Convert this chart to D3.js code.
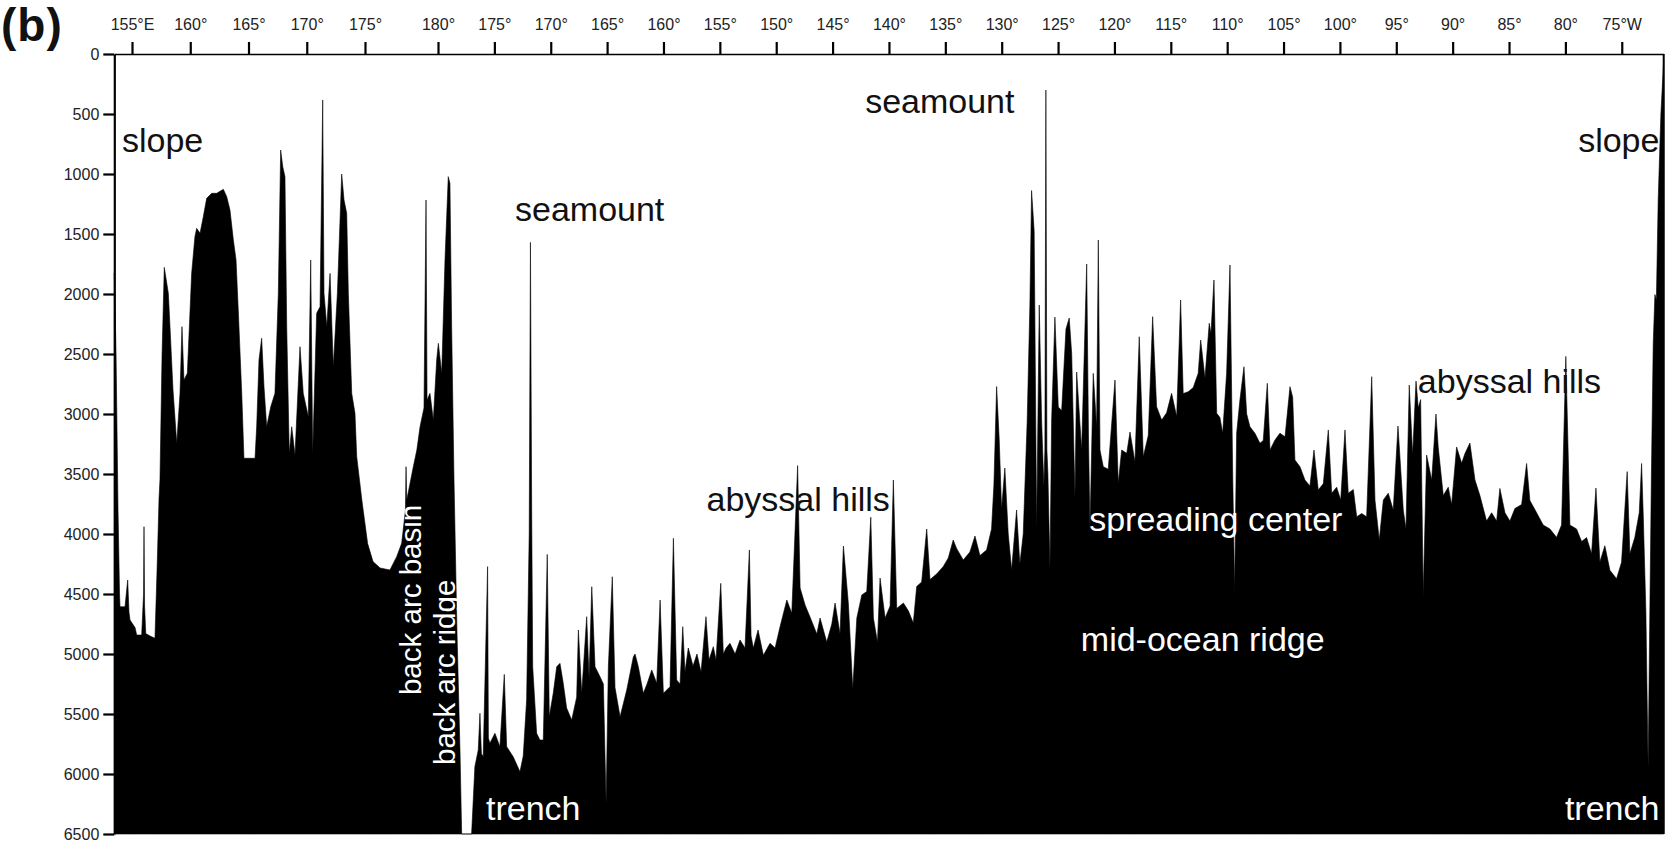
<!DOCTYPE html>
<html>
<head>
<meta charset="utf-8">
<script src="https://cdn.jsdelivr.net/npm/d3@7"></script>
<style>
  html, body { margin: 0; padding: 0; background: #fff; }
  svg { display: block; font-family: "Liberation Sans", Arial, Helvetica, sans-serif; }
</style>
</head>
<body>
<svg id="chart" width="1671" height="845"></svg>
<script>
// ---------------- DATA ----------------
// Along-track longitude (unwrapped, degrees east: 185 = 175°W ... 285 = 75°W)
const tickLon = [155,160,165,170,175,180,185,190,195,200,205,210,215,220,225,230,235,240,245,250,255,260,265,270,275,280,285];
const tickLabels = ["155°E","160°","165°","170°","175°","180°","175°","170°","165°","160°","155°","150°","145°","140°","135°","130°","125°","120°","115°","110°","105°","100°","95°","90°","85°","80°","75°W"];
const depthTicks = [0,500,1000,1500,2000,2500,3000,3500,4000,4500,5000,5500,6000,6500];

const profileLon = [
153.48,153.63,153.80,153.93,153.97,154.40,154.63,154.74,154.83,155.26,155.40,155.83,155.99,156.03,156.08,156.18,156.55,156.97,157.15,157.32,
157.40,157.58,157.77,158.12,158.26,158.52,158.84,159.12,159.29,159.46,159.75,160.12,160.40,160.55,160.84,161.12,161.41,161.84,162.27,162.84,
163.13,163.41,163.70,163.93,164.12,164.42,164.61,165.56,165.70,165.90,166.13,166.33,166.56,166.91,167.27,167.56,167.76,167.94,168.13,168.28,
168.50,168.71,168.99,169.42,169.70,170.13,170.34,170.51,170.85,171.14,171.37,171.48,171.72,172.00,172.28,172.63,173.00,173.20,173.43,173.57,
173.86,174.14,174.29,174.74,175.18,175.55,176.03,176.71,177.17,177.51,177.77,177.81,177.86,178.31,178.55,178.77,179.04,179.18,179.25,179.45,
179.68,179.91,180.03,180.33,180.62,180.91,181.06,181.21,181.42,181.68,181.95,182.10,182.98,183.27,183.57,183.72,183.85,184.01,184.40,184.47,
184.60,185.05,185.49,185.88,186.09,186.67,187.27,187.56,187.86,188.09,188.20,188.31,188.40,188.75,189.04,189.34,189.69,189.87,190.22,190.53,
190.82,191.11,191.41,191.86,192.30,192.45,192.75,193.19,193.40,193.64,193.93,194.37,194.67,194.91,195.11,195.46,195.70,196.15,196.74,197.33,
197.48,197.77,198.21,198.54,198.96,199.40,199.70,199.99,200.58,200.88,201.17,201.47,201.71,201.91,202.20,202.62,202.97,203.33,203.77,204.04,
204.42,204.66,205.08,205.31,205.55,205.90,206.35,206.79,207.23,207.62,207.77,207.97,208.39,208.86,209.45,209.90,210.34,210.94,211.38,211.90,
212.12,212.56,213.00,213.60,213.89,214.48,214.93,215.22,215.66,215.96,216.40,216.79,217.15,217.59,218.03,218.39,218.62,218.98,219.21,219.66,
220.10,220.39,220.69,221.28,221.72,222.16,222.46,222.90,223.35,223.64,224.23,224.82,225.26,225.70,226.00,226.59,227.18,227.63,228.07,228.66,
229.10,229.31,229.55,229.78,229.99,230.28,230.58,230.88,231.32,231.61,231.91,232.26,232.50,232.65,232.88,233.10,233.33,233.54,233.74,233.83,
233.92,234.01,234.10,234.28,234.43,234.72,235.02,235.32,235.70,235.99,236.21,236.50,236.65,237.09,237.54,237.70,237.83,238.12,238.42,238.57,
238.72,239.01,239.45,240.05,240.34,240.64,241.09,241.38,241.82,242.20,242.56,243.00,243.39,243.74,244.19,244.63,245.07,245.52,245.87,246.10,
246.55,246.99,247.43,247.65,248.03,248.41,248.56,248.83,249.07,249.36,249.60,249.95,250.25,250.49,250.66,250.84,251.13,251.49,251.73,252.02,
252.46,252.91,253.20,253.56,253.80,254.24,254.68,255.13,255.57,255.81,256.01,256.46,256.90,257.34,257.70,258.08,258.53,258.97,259.27,259.71,
260.07,260.45,260.74,261.19,261.49,261.93,262.37,262.82,263.11,263.49,263.85,264.29,264.73,265.15,265.62,265.86,266.15,266.45,266.75,266.95,
267.16,267.39,267.69,268.14,268.52,268.72,269.17,269.61,269.91,270.35,270.80,271.09,271.53,271.98,272.42,273.01,273.46,273.90,274.19,274.64,
275.08,275.52,276.12,276.56,276.85,277.45,278.03,278.63,279.22,279.66,280.04,280.40,280.99,281.44,281.88,282.32,282.71,283.06,283.50,283.95,
284.54,284.98,285.48,285.72,286.16,286.55,286.76,286.90,287.14,287.34,287.49,287.63,287.79,287.94,288.07,288.23,288.47,288.72
];
const profileDepth = [
1825,2500,3800,4500,4606,4606,4383,4650,4717,4780,4842,4842,4500,3939,4600,4830,4850,4869,4300,3700,
3550,2500,1778,1995,2272,2800,3244,2828,2272,2717,2661,1828,1522,1453,1494,1356,1203,1161,1161,1128,
1189,1300,1550,1717,2133,2828,3369,3369,3106,2550,2369,2772,3106,2939,2828,1994,800,939,1022,2272,
3328,3106,3342,2439,2828,3022,1717,3328,2161,2106,383,1994,2272,1828,2606,1994,1000,1217,1328,1994,
2828,2994,3356,3725,4080,4230,4283,4300,4189,4078,3800,3439,3717,3439,3300,3106,2950,1217,2883,2828,
3050,2550,2411,2661,1717,1022,1078,2272,3550,4800,5800,6500,6500,5939,5800,5494,5830,5856,4272,5700,
5744,5661,5772,5170,5772,5856,5981,5850,5383,3994,1570,3800,5106,5661,5717,5717,4170,5522,5328,5106,
5078,5244,5450,5550,5360,4800,5328,4689,5200,4439,5106,5189,5250,6244,5106,4356,5280,5522,5300,5022,
5000,5106,5328,5250,5133,5244,4550,5328,5272,4036,5217,5250,4772,5150,4950,5100,5000,5150,4689,5050,
4939,5050,4411,5000,4950,4911,5000,4883,4950,4133,4850,4950,4800,5011,4911,4950,4772,4550,4660,3430,
4450,4592,4692,4833,4700,4900,4750,4575,4833,4100,4580,5290,4700,4508,4480,3860,4700,4900,4367,4700,
4600,3550,4620,4575,4640,4742,4437,4400,3958,4380,4333,4270,4200,4050,4120,4217,4150,4017,4180,4133,
3958,3587,2771,3213,3792,3450,4000,4300,3800,4250,4000,3058,2092,1138,1478,3958,2092,3050,3600,3300,
300,3300,3500,4283,3050,2192,2942,2970,2292,2200,2500,3692,2650,3300,1750,3200,3958,2661,3106,1550,
3300,3439,3460,2717,3578,3300,3328,3150,3400,2356,3356,3180,2189,2939,3050,2990,2828,3020,2050,2830,
2814,2780,2661,2383,2700,2244,2330,1883,2994,3030,3160,2661,1758,3500,4467,3160,2883,2606,3000,3106,
3160,3244,3220,2744,3300,3217,3160,3190,2772,2860,3383,3440,3550,3600,3300,3633,3580,3133,3660,3610,
3717,3133,3660,3630,3856,3830,3856,2689,3717,4050,3717,3660,3800,3100,3800,3958,2758,3342,2725,2950,
2880,4508,3342,3550,3000,3275,3680,3610,3754,3275,3410,3330,3242,3550,3680,3892,3823,3892,3620,3823,
3892,3788,3754,3412,3720,3823,3925,3958,4028,3925,2520,3925,3958,4063,4030,4165,3617,4233,4098,4303,
4372,4236,3480,4165,4028,3823,3412,3823,4646,5950,4646,3500,2417,2005,2050,1217,500,50
];

// Feature labels, placed in data units (lon, depth of text baseline)
const labelText   = ["slope","slope","seamount","seamount","abyssal hills","abyssal hills","spreading center","mid-ocean ridge","trench","trench","back arc basin","back arc ridge"];
const labelLon    = [154.14,288.34,186.83,217.89,203.82,266.91,237.76,237.02,184.26,288.34,178.84,181.51];
const labelDepth  = [817,817,1392,492,3812,2825,3975,4975,6383,6383,5342,5925];
const labelOnDark = [false,false,false,false,false,false,true,true,true,true,true,true];
const labelAnchor = ["start","end","start","start","start","start","start","start","start","end","start","start"];
const labelRotate = [false,false,false,false,false,false,false,false,false,false,true,true];

// ---------------- LAYOUT ----------------
const svg = d3.select("#chart");
const mLeft = 114.3, mRight = 1663.7, mTop = 54, mBottom = 834;

// Piecewise along-track scale (the 175°E–180° leg is longer on the track)
const x = d3.scaleLinear()
  .domain([153.48, 175, 180, 288.72])
  .range([mLeft, 365, 438, mRight]);
const y = d3.scaleLinear().domain([0, 6500]).range([mTop, mBottom]);

const n = Math.min(profileLon.length, profileDepth.length);
const profile = profileLon.slice(0, n).map((lon, i) => ({lon, depth: profileDepth[i]}));

// Bathymetry fill
const area = d3.area()
  .x(d => x(d.lon))
  .y0(y(6500))
  .y1(d => y(d.depth));

svg.append("path")
  .datum(profile)
  .attr("d", area)
  .attr("fill", "#000")
  .attr("stroke", "#000")
  .attr("stroke-width", 0.6)
  .attr("stroke-linejoin", "miter");

// Right border
svg.append("line")
  .attr("x1", x(288.72)).attr("x2", x(288.72))
  .attr("y1", y(0)).attr("y2", y(6500))
  .attr("stroke", "#000").attr("stroke-width", 2);

// Left axis (depth)
const yAxis = d3.axisLeft(y).tickValues(depthTicks).tickFormat(d3.format("d"))
  .tickSize(11).tickSizeOuter(0).tickPadding(4);
const gy = svg.append("g").attr("transform", `translate(${mLeft},0)`).call(yAxis);
gy.select(".domain").attr("stroke", "#000").attr("stroke-width", 2.2);
gy.selectAll(".tick line").attr("stroke", "#000").attr("stroke-width", 2.2);
gy.selectAll(".tick text").attr("font-size", 16).attr("fill", "#222")
  .attr("font-family", "'Liberation Sans', Arial, sans-serif");

// Top axis (longitude)
const xAxis = d3.axisTop(x).tickValues(tickLon).tickFormat((d, i) => tickLabels[i])
  .tickSize(12).tickSizeOuter(0).tickPadding(12);
const gx = svg.append("g").attr("transform", `translate(0,${mTop})`).call(xAxis);
gx.select(".domain").attr("stroke", "#000").attr("stroke-width", 1.6);
gx.selectAll(".tick line").attr("stroke", "#000").attr("stroke-width", 2.2);
gx.selectAll(".tick text").attr("font-size", 16).attr("fill", "#222")
  .attr("font-family", "'Liberation Sans', Arial, sans-serif");

// Panel letter
svg.append("text")
  .attr("x", 1).attr("y", 41)
  .attr("font-size", 46).attr("font-weight", "bold").attr("fill", "#111")
  .attr("letter-spacing", 1)
  .text("(b)");

// Feature labels
labelText.forEach((t, i) => {
  const px = x(labelLon[i]), py = y(labelDepth[i]);
  const txt = svg.append("text")
    .attr("fill", labelOnDark[i] ? "#fff" : "#111")
    .attr("text-anchor", labelAnchor[i])
    .text(t);
  if (labelRotate[i]) {
    txt.attr("font-size", 29.5)
      .attr("transform", `translate(${px},${py}) rotate(-90)`);
  } else {
    txt.attr("font-size", 34).attr("x", px).attr("y", py);
  }
});
</script>
</body>
</html>
